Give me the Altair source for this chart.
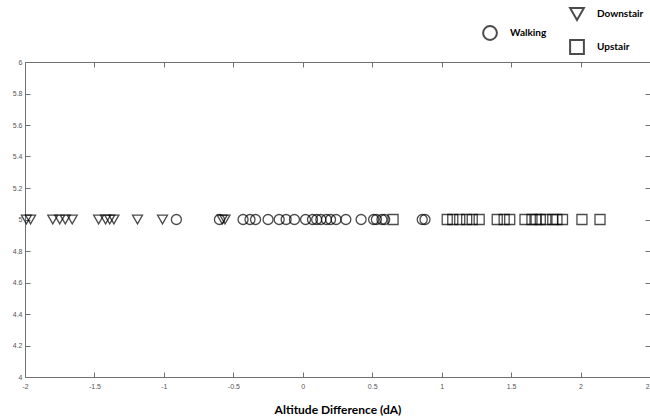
import altair as alt
import pandas as pd

# x positions (Altitude Difference, dA); all points sit at y = 5
walking = [-0.91, -0.60, -0.43, -0.38, -0.34, -0.25, -0.17, -0.12, -0.06, 0.02, 0.07, 0.10,
           0.13, 0.17, 0.20, 0.24, 0.31, 0.42, 0.51, 0.53, 0.57, 0.59, 0.86, 0.88]
downstair = [-1.99, -1.96, -1.80, -1.75, -1.71, -1.66, -1.47, -1.42, -1.39, -1.36, -1.19,
             -1.01, -0.58, -0.56]
upstair = [0.65, 1.04, 1.08, 1.13, 1.18, 1.22, 1.27, 1.40, 1.45, 1.49, 1.60, 1.65, 1.68,
           1.71, 1.75, 1.80, 1.83, 1.87, 2.01, 2.14]
LEVEL = 5

x_ticks = [-2, -1.5, -1, -0.5, 0, 0.5, 1, 1.5, 2, 2.5]
y_ticks = [4, 4.2, 4.4, 4.6, 4.8, 5, 5.2, 5.4, 5.6, 5.8, 6]

df_walk = pd.DataFrame({"dA": walking, "lvl": [LEVEL] * len(walking),
                        "activity": ["Walking"] * len(walking)})
df_other = pd.DataFrame({
    "dA": downstair + upstair,
    "lvl": [LEVEL] * (len(downstair) + len(upstair)),
    "activity": ["Downstair"] * len(downstair) + ["Upstair"] * len(upstair),
})

AX = "#707070"
xscale = alt.Scale(domain=[-2, 2.5], nice=False, zero=False)
yscale = alt.Scale(domain=[4, 6], nice=False, zero=False)

common_axis = dict(domainColor=AX, domainWidth=1, ticks=False, grid=True,
                   gridDash=[5, 3000], gridColor=AX, gridWidth=1, gridOpacity=1)

x_bottom = alt.Axis(orient="bottom", values=x_ticks, labelExpr="'' + datum.value",
                    labelFont="Liberation Sans", labelFontSize=7, labelColor="#555555",
                    labelPadding=5, labelFlush=False, labelOverlap=False,
                    title="Altitude Difference (dA)", titleFont="Lato",
                    titleFontWeight="bold", titleFontSize=12, titleColor="black",
                    titlePadding=15, **common_axis)
y_left = alt.Axis(orient="left", values=y_ticks, labelExpr="'' + datum.value",
                  labelFont="Liberation Sans", labelFontSize=7, labelColor="#555555",
                  labelPadding=3, labelFlush=False, labelOverlap=False, title="",
                  **common_axis)
x_top = alt.Axis(orient="top", values=x_ticks, labels=False, title="", **common_axis)
y_right = alt.Axis(orient="right", values=y_ticks, labels=False, title="", **common_axis)

legend_common = dict(orient="none", symbolSize=190, symbolStrokeWidth=2,
                     symbolStrokeColor="black", symbolFillColor="transparent",
                     labelFont="Lato", labelFontWeight="bold", labelFontSize=10,
                     labelColor="black", labelOffset=12, padding=0)

walk_layer = alt.Chart(df_walk).mark_point(filled=False, color="black", size=100,
                                           strokeWidth=1.3).encode(
    x=alt.X("dA:Q", scale=xscale, axis=x_bottom),
    y=alt.Y("lvl:Q", scale=yscale, axis=y_left),
    shape=alt.Shape("activity:N",
                    scale=alt.Scale(domain=["Walking"], range=["circle"]),
                    legend=alt.Legend(title=None, legendX=457, legendY=-37,
                                      **legend_common)),
)

other_layer = alt.Chart(df_other).mark_point(filled=False, color="black", size=100,
                                             strokeWidth=1.3).encode(
    x=alt.X("dA:Q", scale=xscale, axis=x_top),
    y=alt.Y("lvl:Q", scale=yscale, axis=y_right),
    shape=alt.Shape("activity:N",
                    scale=alt.Scale(domain=["Downstair", "Upstair"],
                                    range=["triangle-down", "square"]),
                    legend=alt.Legend(title=None, legendX=544, legendY=-56,
                                      rowPadding=12, **legend_common)),
)

chart = alt.layer(walk_layer, other_layer).resolve_scale(
    shape="independent"
).resolve_axis(
    x="independent", y="independent"
).properties(
    width=625, height=315,
    autosize=alt.AutoSizeParams(type="none"),
    padding={"left": 25, "top": 62, "right": 0, "bottom": 42},
    background="white",
).configure_view(stroke="transparent")

chart.save("out.html", embed_options={"renderer": "svg", "actions": False})
